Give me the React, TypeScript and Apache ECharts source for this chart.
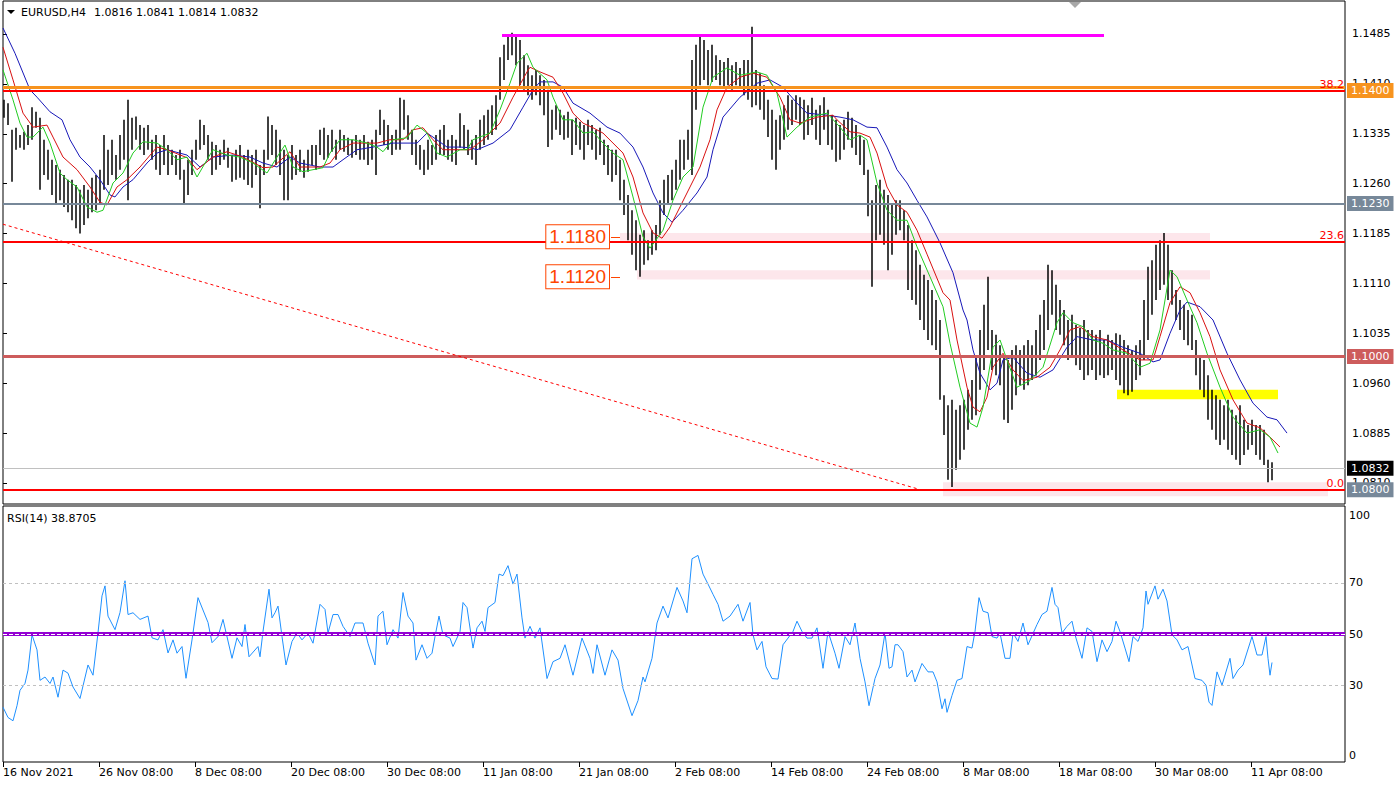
import React, { useEffect, useRef } from "react";
import * as echarts from "echarts";

const FONT = "'DejaVu Sans', Tahoma, Verdana, sans-serif";

// ---- axis labels ----
const xLabels = ["16 Nov 2021", "26 Nov 08:00", "8 Dec 08:00", "20 Dec 08:00", "30 Dec 08:00", "11 Jan 08:00", "21 Jan 08:00", "2 Feb 08:00", "14 Feb 08:00", "24 Feb 08:00", "8 Mar 08:00", "18 Mar 08:00", "30 Mar 08:00", "11 Apr 08:00"];
const barsPerLabel = 48; // H4 bars between two time labels
const totalBarsVisible = 671; // H4 bar slots across the chart width
const priceTicks = [1.081, 1.0885, 1.096, 1.1035, 1.111, 1.1185, 1.126, 1.1335, 1.141, 1.1485];
const priceMin = 1.07784;
const priceMax = 1.15346;
const rsiTicks = [0, 30, 50, 70, 100];

// ---- price bars (every second H4 bar, high / low) ----
const barHigh = [
  1.1386, 1.1381, 1.1341, 1.1344, 1.1333, 1.1338, 1.1348, 1.1375, 1.1368, 1.1359,
  1.1326, 1.1311, 1.1296, 1.1288, 1.1281, 1.1273, 1.1266, 1.1266, 1.1258, 1.1251,
  1.1258, 1.1251, 1.1269, 1.1273, 1.1281, 1.1333, 1.1311, 1.1326, 1.1303, 1.1333,
  1.1356, 1.1386, 1.1359, 1.1361, 1.1348, 1.1344, 1.1348, 1.1326, 1.1333, 1.1318,
  1.1333, 1.1318, 1.1311, 1.1303, 1.1311, 1.1281, 1.1296, 1.1311, 1.1326, 1.1356,
  1.1348, 1.1333, 1.1323, 1.1318, 1.1311, 1.1326, 1.1314, 1.1303, 1.1311, 1.1318,
  1.1303, 1.1311, 1.1303, 1.1311, 1.1288, 1.1311, 1.1361, 1.1348, 1.1341, 1.1326,
  1.1311, 1.1303, 1.1318, 1.1303, 1.1311, 1.1296, 1.1311, 1.1318, 1.1318, 1.1341,
  1.1344, 1.1333, 1.1341, 1.1326, 1.1341, 1.1333, 1.1329, 1.1326, 1.1333, 1.1326,
  1.1333, 1.1323, 1.1326, 1.1341, 1.1371, 1.1356, 1.1348, 1.1333, 1.1341, 1.1389,
  1.1386, 1.1363, 1.1341, 1.1326, 1.1318, 1.1311, 1.1326, 1.1318, 1.1333, 1.1341,
  1.1348, 1.1326, 1.1333, 1.1326, 1.1366, 1.1348, 1.1341, 1.1326, 1.1333, 1.1356,
  1.1363, 1.1371, 1.1378, 1.1393, 1.1450, 1.1469, 1.1484, 1.1487, 1.1484, 1.1476,
  1.1453, 1.1438, 1.1423, 1.1431, 1.1423, 1.1416, 1.1401, 1.1371, 1.1378, 1.1371,
  1.1363, 1.1368, 1.1356, 1.1359, 1.1353, 1.1348, 1.1356, 1.1348, 1.1341, 1.1344,
  1.1326, 1.1318, 1.1311, 1.1311, 1.1296, 1.1266, 1.1243, 1.1220, 1.1205, 1.1183,
  1.1190, 1.1175, 1.1190, 1.1198, 1.1235, 1.1266, 1.1273, 1.1281, 1.1296, 1.1326,
  1.1326, 1.1341, 1.1446, 1.1469, 1.1481, 1.1476, 1.1461, 1.1469, 1.1453, 1.1446,
  1.1443, 1.1449, 1.1438, 1.1443, 1.1434, 1.1446, 1.1446, 1.1496, 1.1431, 1.1426,
  1.1408, 1.1386, 1.1371, 1.1356, 1.1363, 1.1378, 1.1393, 1.1386, 1.1393, 1.1390,
  1.1386, 1.1378, 1.1389, 1.1371, 1.1378, 1.1390, 1.1371, 1.1363, 1.1356, 1.1348,
  1.1356, 1.1368, 1.1359, 1.1348, 1.1333, 1.1326, 1.1281, 1.1235, 1.1258, 1.1266,
  1.1251, 1.1243, 1.1228, 1.1235, 1.1235, 1.1220, 1.1198, 1.1175, 1.1160, 1.1138,
  1.1123, 1.1115, 1.1100, 1.1085, 1.1055, 1.0942, 1.0927, 1.0935, 1.0920, 1.0927,
  1.0935, 1.0950, 1.0965, 1.1002, 1.1040, 1.1078, 1.1120, 1.1040, 1.1033, 1.1017,
  1.1002, 1.0995, 1.1010, 1.1017, 1.1010, 1.1017, 1.1025, 1.1017, 1.1040, 1.1063,
  1.1085, 1.1138, 1.1130, 1.1108, 1.1085, 1.1070, 1.1055, 1.1063, 1.1048, 1.1043,
  1.1055, 1.1040, 1.1040, 1.1033, 1.1040, 1.1025, 1.1033, 1.1025, 1.1035, 1.1033,
  1.1025, 1.1017, 1.1010, 1.1017, 1.1025, 1.1085, 1.1135, 1.1145, 1.1168, 1.1175,
  1.1186, 1.1168, 1.1130, 1.1100, 1.1085, 1.1078, 1.1070, 1.1063, 1.1025, 1.1002,
  1.0995, 1.0972, 1.0950, 1.0942, 1.0935, 1.0927, 1.0935, 1.0920, 1.0912, 1.0927,
  1.0905, 1.0897, 1.0905, 1.0897, 1.0897, 1.0890, 1.0845, 1.0841,
];
const barLow = [
  1.1359, 1.1348, 1.1263, 1.1311, 1.1314, 1.1311, 1.1318, 1.1326, 1.1344, 1.1251,
  1.1273, 1.1266, 1.1243, 1.1228, 1.1235, 1.1225, 1.1217, 1.1205, 1.1193, 1.1185,
  1.1198, 1.1208, 1.1217, 1.1220, 1.1228, 1.1251, 1.1258, 1.1273, 1.1266, 1.1281,
  1.1296, 1.1235, 1.1311, 1.1326, 1.1311, 1.1303, 1.1311, 1.1296, 1.1281, 1.1273,
  1.1288, 1.1273, 1.1288, 1.1273, 1.1266, 1.1228, 1.1243, 1.1273, 1.1296, 1.1311,
  1.1318, 1.1296, 1.1273, 1.1281, 1.1288, 1.1296, 1.1284, 1.1263, 1.1266, 1.1269,
  1.1266, 1.1258, 1.1254, 1.1273, 1.1223, 1.1273, 1.1296, 1.1303, 1.1288, 1.1273,
  1.1235, 1.1235, 1.1266, 1.1273, 1.1278, 1.1269, 1.1278, 1.1288, 1.1281, 1.1303,
  1.1296, 1.1299, 1.1308, 1.1296, 1.1311, 1.1308, 1.1303, 1.1299, 1.1303, 1.1296,
  1.1296, 1.1288, 1.1296, 1.1273, 1.1333, 1.1318, 1.1311, 1.1303, 1.1311, 1.1311,
  1.1341, 1.1326, 1.1303, 1.1288, 1.1281, 1.1273, 1.1281, 1.1288, 1.1296, 1.1303,
  1.1303, 1.1296, 1.1293, 1.1288, 1.1314, 1.1311, 1.1303, 1.1296, 1.1288, 1.1311,
  1.1318, 1.1326, 1.1333, 1.1341, 1.1386, 1.1416, 1.1446, 1.1453, 1.1438, 1.1408,
  1.1401, 1.1393, 1.1386, 1.1393, 1.1378, 1.1363, 1.1315, 1.1326, 1.1341, 1.1333,
  1.1326, 1.1329, 1.1303, 1.1318, 1.1311, 1.1296, 1.1318, 1.1311, 1.1296, 1.1303,
  1.1288, 1.1273, 1.1263, 1.1273, 1.1235, 1.1213, 1.1175, 1.1153, 1.1130, 1.1120,
  1.1138, 1.1145, 1.1153, 1.1160, 1.1183, 1.1213, 1.1228, 1.1235, 1.1251, 1.1266,
  1.1281, 1.1296, 1.1273, 1.1371, 1.1408, 1.1416, 1.1408, 1.1413, 1.1416, 1.1408,
  1.1404, 1.1408, 1.1401, 1.1408, 1.1404, 1.1393, 1.1386, 1.1375, 1.1378, 1.1371,
  1.1356, 1.1330, 1.1296, 1.1281, 1.1311, 1.1326, 1.1341, 1.1348, 1.1356, 1.1348,
  1.1326, 1.1333, 1.1348, 1.1326, 1.1318, 1.1341, 1.1318, 1.1311, 1.1293, 1.1296,
  1.1311, 1.1326, 1.1314, 1.1303, 1.1288, 1.1273, 1.1211, 1.1105, 1.1175, 1.1183,
  1.1168, 1.1130, 1.1153, 1.1183, 1.1190, 1.1175, 1.1100, 1.1085, 1.1078, 1.1055,
  1.1040, 1.1025, 1.1017, 1.1010, 1.0935, 1.0882, 1.0815, 1.0804, 1.0830, 1.0845,
  1.0860, 1.0890, 1.0905, 1.0912, 1.0950, 1.0980, 1.1010, 1.0980, 1.0972, 1.0957,
  1.0905, 1.0900, 1.0920, 1.0942, 1.0957, 1.0950, 1.0957, 1.0965, 1.0972, 1.0995,
  1.1010, 1.1040, 1.1063, 1.1040, 1.1033, 1.1017, 1.0995, 1.1002, 1.0987, 1.0980,
  1.0965, 1.0972, 1.0980, 1.0965, 1.0972, 1.0968, 1.0972, 1.0980, 1.0965, 1.0957,
  1.0945, 1.0942, 1.0947, 1.0965, 1.0972, 1.0995, 1.1025, 1.1063, 1.1085, 1.1100,
  1.1108, 1.1085, 1.1078, 1.1055, 1.1040, 1.1025, 1.1017, 1.1010, 1.0972, 1.0950,
  1.0939, 1.0905, 1.0890, 1.0875, 1.0867, 1.0875, 1.0860, 1.0852, 1.0845, 1.0837,
  1.0852, 1.0860, 1.0867, 1.0852, 1.0845, 1.0837, 1.0811, 1.0814,
];

// ---- Alligator lines: [H4 bar index, price] ----
const jaw = [[0,1.1494],[6,1.1456],[13.5,1.1401],[17,1.139],[23.5,1.1368],[29.5,1.1356],[33.5,1.1326],[38.5,1.13],[43.5,1.1285],[48.5,1.1266],[53.5,1.1243],[56,1.124],[60,1.1255],[65,1.1266],[72,1.1291],[77,1.1306],[82,1.1311],[92,1.1303],[98.5,1.1285],[105,1.13],[115,1.1303],[123.5,1.13],[130,1.1291],[137,1.1285],[143.5,1.13],[148.5,1.1291],[158.5,1.1285],[165,1.1285],[170,1.1296],[177,1.1311],[185,1.1315],[195,1.1321],[207,1.1321],[212,1.1336],[215,1.133],[222,1.1315],[228.5,1.1315],[233.5,1.1314],[237,1.1311],[245,1.1321],[253.5,1.1341],[260,1.1375],[265,1.1401],[268.5,1.1413],[275,1.1413],[280,1.1405],[285,1.1381],[293.5,1.1366],[302,1.1345],[308.5,1.1336],[315,1.1315],[320,1.1285],[325,1.1246],[330,1.1216],[334.5,1.1202],[340,1.122],[347,1.1246],[352,1.127],[355,1.1311],[360,1.136],[368.5,1.139],[377,1.1411],[383.5,1.1416],[390,1.1405],[397,1.1381],[402,1.1366],[412,1.1363],[418.5,1.136],[425,1.1356],[432,1.1345],[437,1.1344],[442,1.1315],[447,1.1281],[452,1.1261],[457,1.1235],[462,1.121],[468.5,1.1171],[475,1.1126],[480,1.107],[482,1.1055],[485,1.101],[488.5,1.0975],[493.5,1.095],[497,1.096],[500,1.0995],[505,1.0999],[512,1.0975],[518.5,1.0969],[525,1.098],[532,1.1014],[537,1.103],[545,1.1025],[552,1.1025],[560,1.1014],[568.5,1.1005],[575,1.0992],[578.5,1.0995],[583.5,1.1035],[588.5,1.107],[592,1.1082],[598.5,1.1075],[605,1.1055],[612,1.1005],[618.5,1.0965],[625,1.093],[632,1.0909],[637,1.0905],[642,1.0885]];
const teeth = [[0,1.1465],[5,1.1416],[10,1.1366],[15,1.1345],[22,1.1348],[25,1.133],[30,1.13],[37,1.1281],[43.5,1.1255],[48.5,1.1232],[52,1.1228],[57,1.1255],[62,1.1266],[68.5,1.1285],[77,1.1315],[82,1.1311],[92,1.1299],[97,1.1281],[105,1.13],[112,1.1308],[120,1.13],[130,1.1284],[135,1.1285],[143.5,1.1308],[148.5,1.1285],[158.5,1.1285],[163.5,1.1291],[168.5,1.1311],[175,1.1321],[187,1.1321],[193.5,1.1326],[200,1.1326],[205,1.1341],[210,1.1344],[215,1.1326],[220,1.1311],[228.5,1.1311],[233.5,1.1311],[240,1.1326],[248.5,1.1351],[255,1.139],[262,1.1428],[263.5,1.1435],[268.5,1.1428],[275,1.142],[280,1.1396],[285,1.1366],[290,1.1351],[295,1.1344],[300,1.1336],[305,1.1321],[310,1.1306],[315,1.127],[320,1.1216],[325,1.1186],[329.5,1.1178],[333.5,1.1195],[338.5,1.1225],[343.5,1.1255],[348.5,1.1285],[353.5,1.1326],[357,1.1371],[362,1.1405],[368.5,1.142],[375,1.1426],[382,1.142],[388.5,1.139],[393.5,1.1356],[398.5,1.1351],[407,1.136],[415,1.1363],[417,1.1356],[423.5,1.1338],[428.5,1.1336],[433.5,1.133],[437,1.1306],[442,1.1255],[447,1.1228],[452,1.1217],[457,1.119],[462,1.1154],[470,1.1096],[473.5,1.1085],[477,1.1025],[482,1.0954],[485,1.0924],[488.5,1.0917],[492,1.0939],[495,1.0984],[500,1.1005],[505,1.098],[510,1.0964],[517,1.0969],[523.5,1.0984],[528.5,1.101],[533.5,1.104],[538.5,1.1045],[545,1.103],[552,1.1025],[560,1.101],[568.5,1.0995],[575,1.0995],[578.5,1.103],[583.5,1.1081],[588.5,1.1105],[593.5,1.1096],[598.5,1.1066],[603.5,1.103],[608.5,1.098],[615,1.0935],[622,1.09],[628.5,1.0893],[633.5,1.0879],[638.5,1.0864]];
const lips = [[0,1.1431],[5,1.1386],[8.5,1.1351],[12,1.133],[15,1.133],[20,1.1345],[23.5,1.1321],[28.5,1.1276],[32,1.1266],[37,1.1255],[42,1.1225],[47,1.1217],[50,1.122],[55,1.1261],[60,1.1276],[65,1.1306],[70,1.1323],[77,1.1321],[82,1.1311],[87,1.1296],[92,1.13],[97,1.127],[102,1.1296],[105,1.1311],[112,1.1303],[118.5,1.13],[125,1.1291],[132,1.1276],[137,1.13],[141,1.1318],[145,1.1285],[150,1.1278],[160,1.1284],[163.5,1.1306],[168.5,1.1326],[175,1.1326],[182,1.1321],[187,1.1315],[190,1.1308],[195,1.1326],[202,1.1329],[207,1.1348],[212,1.1336],[217,1.1306],[222,1.13],[228.5,1.1311],[232,1.1311],[235,1.1326],[243.5,1.1336],[248.5,1.1371],[253.5,1.1411],[257,1.1441],[262,1.1456],[265,1.1435],[272,1.1416],[275,1.139],[280,1.1356],[285,1.1356],[290,1.1336],[295,1.1338],[300,1.1321],[305,1.1306],[310,1.1296],[315,1.124],[320,1.118],[323.5,1.1163],[330,1.119],[335,1.1235],[340,1.127],[345,1.1285],[350,1.1375],[355,1.142],[362,1.1434],[368.5,1.1423],[377,1.1428],[382,1.1423],[387,1.1396],[392,1.133],[397,1.1345],[403.5,1.136],[412,1.1366],[418.5,1.1345],[423.5,1.1326],[428.5,1.1333],[432,1.1326],[437,1.1261],[442,1.122],[447,1.1205],[452,1.1205],[457,1.1165],[463.5,1.112],[470,1.1075],[473.5,1.102],[478.5,1.0954],[483.5,1.09],[487,1.0894],[490,1.0924],[495,1.1014],[498.5,1.1025],[502,1.0995],[507,1.0954],[513.5,1.0964],[520,1.0984],[527,1.1051],[530,1.1066],[535,1.1051],[540,1.1045],[545,1.1025],[550,1.102],[555,1.101],[562,1.1005],[568.5,1.0984],[573.5,1.099],[578.5,1.104],[583.5,1.113],[587,1.112],[592,1.1085],[597,1.1051],[602,1.1005],[608.5,1.0954],[615,1.0909],[622,1.0885],[628.5,1.089],[633.5,1.0879],[637.5,1.0855]];

// ---- RSI(14): [H4 bar index, value] ----
const rsi = [[0,21.4],[2.5,17.4],[5,16.1],[7,22],[8.5,28],[11,30.7],[12.5,35.9],[14.5,49.7],[17,43.8],[18.5,31.9],[21,33.2],[23.5,30.7],[25,33.2],[27.5,25.3],[30,35.9],[32.5,34.7],[35,29.3],[38.5,24.8],[42.5,37.9],[45,33.9],[47.5,50.5],[49.5,64.9],[51,68.8],[52.5,57],[56,51.7],[58.5,58.4],[61,70.8],[62.5,57.6],[65,58.3],[68.5,55.7],[72.5,57],[74.5,48.5],[77.5,47.7],[80,51.7],[82.5,42.6],[85,47.7],[87,42.5],[89.5,45.1],[91.5,32.7],[94.5,47.7],[97.5,64.2],[102.5,54.5],[104.5,46.6],[107.5,49],[110,55.7],[114.5,40.5],[117,48.5],[119.5,45.1],[121,53.7],[123,41.1],[127.5,45.1],[128.5,41.1],[130,51],[133,67.5],[134.5,56.3],[136,58.3],[137.5,60.9],[139.5,49],[141.5,37.9],[144.5,47.1],[147,50.4],[149.5,47.7],[152.5,50.4],[155,46.4],[158.5,61.6],[161,59.6],[162.5,50.4],[165,57.6],[167.5,57.6],[170,53],[173.5,49],[176,54.3],[180,54.3],[182.5,46.4],[186,37.9],[187.5,57],[190,58.9],[192,45.8],[195,51.7],[197.5,48.4],[200,66.2],[202.5,57],[205,54.3],[206.5,39.8],[209.5,45.8],[212,40.5],[214.5,42.5],[216,49],[218,57],[220,49.7],[223.5,48.4],[225,45.1],[228.5,51],[230,62.3],[232,60.3],[235,44.5],[237,52.4],[239.5,55],[241,51],[242.5,60.3],[246,62.3],[248,73.4],[250,72.8],[252.5,76.7],[255,69.5],[257,73.4],[259.5,56.3],[261,48.4],[263.5,53],[266,48.4],[268.5,52.4],[272,32.6],[275,39.2],[278.5,40.5],[281,45.8],[285,33.9],[289.5,48.4],[293.5,40.5],[295,34.6],[297,45.8],[301,33.9],[304.5,43.8],[307.5,39.8],[310,28.7],[314.5,18.1],[317.5,24],[320,33.2],[321,31.3],[324.5,40.5],[327,54.3],[330,60.9],[332.5,56.3],[337,68.2],[340,62.9],[342,58.3],[344.5,79.4],[347.5,80.7],[350,73.4],[352.5,69.5],[355,65.5],[357.5,61.6],[360,55],[363.5,57],[367.5,61.6],[370,55],[373.5,62.3],[375,49.7],[377,43.8],[379.5,47.1],[381.5,37.2],[384.5,32.6],[387.5,32.4],[390,45.8],[392.5,48.4],[395,51],[397,55],[399.5,51],[402,48.4],[404.5,48.4],[407,52.4],[410,36.6],[412.5,51],[416,42.5],[418,36.6],[421,49],[423.5,45.8],[426,54.3],[428.5,40.5],[431,31.3],[433,22],[436,32.6],[438.5,37.9],[441,50.4],[443,36.6],[444.5,37.2],[446,45.8],[447.5,45.8],[450,43.1],[452,33.2],[454.5,35.9],[456,31.3],[459.5,38.5],[462.5,35.2],[465,35.2],[467,31.3],[469.5,20.8],[471,24.7],[472,19.4],[474.5,26],[477,31.9],[479.5,32.6],[482,45.1],[484.5,44.5],[486,51],[488,64.2],[490,58.9],[492.5,58.3],[494.5,49],[497,48.4],[498.5,50.4],[501,40.5],[503.5,40.5],[505,50.4],[507.5,47.1],[510,54.3],[512.5,45.8],[517,53.7],[519.5,57.6],[522,58.9],[524.5,68.2],[526,61.6],[527.5,60.3],[529.5,50.4],[532,53],[534.5,55],[536,49.7],[539.5,40.5],[542,52.4],[544.5,51],[547,39.2],[549.5,47.7],[552,43.1],[554.5,47.1],[556.5,55],[558.5,51],[561,44.5],[563,39.2],[565,49],[567.5,47.1],[570,52.4],[571.5,66.8],[572.5,61.6],[576,68.8],[577.5,63.6],[580,67.5],[582,62.9],[584.5,49.7],[587,47.7],[589.5,43.8],[592.5,45.1],[596,32.6],[599.5,31.9],[601.5,30],[603,23.4],[604.5,22.1],[607,35.2],[609.5,30],[613.5,40.5],[615,32.6],[617.5,35.9],[620,37.9],[624.5,49],[627,41.8],[629.5,41.8],[631.5,49],[632.5,40.5],[633.5,33.9],[634.5,38.87]];

// ---- last bar / indicator readouts ----
const lastOpen = 1.0816;
const lastHigh = 1.0841;
const lastLow = 1.0814;
const lastClose = 1.0832;
const rsiValue = 38.8705;

// ---- drawn objects (prices and H4 bar indices) ----
const fibLevels = [{ price: 1.14, text: "38.2" }, { price: 1.1172, text: "23.6" }, { price: 1.08, text: "0.0" }];
const orangeLevel = 1.14045;
const grayLevel = 1.123;
const roundLevel = 1.1;
const topResistance = { from: 249.5, to: 550.5, price: 1.1483 };
const trendFrom = [0, 1.1199];
const trendTo = [457.5, 1.0801];
const boxLevels = [1.118, 1.112];
const boxAnchor = [304, 308.5];
const pinkZones = [
  [308.5, 603.5, 1.1171, 1.1186],
  [317, 603.5, 1.1116, 1.113],
  [470, 662.5, 1.079, 1.0811],
];
const yellowZone = [557, 637.5, 1.0936, 1.095];
const rsiLevels = [30, 70];

const ORANGE = "#f7931e";
const SLATE = "#778899";
const INDIAN = "#cd5c5c";
const BOXCOL = "#ff4500";

function tag(price: number, text: string, bg: string) {
  return {
    yAxis: price,
    lineStyle: { width: 0, color: "rgba(0,0,0,0)", type: "solid" },
    label: {
      show: true, position: "end", distance: 2, formatter: text, color: "#fff",
      backgroundColor: bg, padding: [2, 4, 1, 4], fontFamily: FONT, fontSize: 11, lineHeight: 12,
    },
  };
}
function hline(price: number, color: string, width: number, labelText?: string) {
  return {
    yAxis: price,
    lineStyle: { color, width, type: "solid" },
    label: labelText
      ? { show: true, position: "insideEndTop", distance: 1, formatter: labelText, color: "#ff0000", fontFamily: FONT, fontSize: 11 }
      : { show: false },
  };
}

function buildOption() {
  const bars = barHigh.map((h, i) => [0.5 + 2 * i, barLow[i], h]);
  const xTickValues = xLabels.map((_, i) => i * barsPerLabel);

  const priceMarkLines: any[] = [
    hline(orangeLevel, ORANGE, 3),
    ...fibLevels.map((f) => hline(f.price, "#ff0000", 2, f.text)),
    hline(grayLevel, SLATE, 2),
    hline(roundLevel, INDIAN, 3),
    hline(lastClose, "#c0c0c0", 1),
    [
      { coord: [topResistance.from, topResistance.price], lineStyle: { color: "#ff00ff", width: 3, type: "solid" }, label: { show: false } },
      { coord: [topResistance.to, topResistance.price] },
    ],
    [
      { coord: trendFrom, lineStyle: { color: "#ff0000", width: 1, type: [3, 3] }, label: { show: false } },
      { coord: trendTo },
    ],
    ...boxLevels.map((p) => [
      {
        coord: [boxAnchor[0], p],
        lineStyle: { color: BOXCOL, width: 1, type: "solid" },
        label: {
          show: true, position: "start", distance: 2, formatter: p.toFixed(4), color: BOXCOL,
          fontFamily: "'Liberation Sans', Arial, sans-serif", fontSize: 19, lineHeight: 20,
          borderColor: BOXCOL, borderWidth: 1, padding: [2, 3, 1, 3], backgroundColor: "#fff",
        },
      },
      { coord: [boxAnchor[1], p] },
    ]),
    tag(1.14, "1.1400", ORANGE),
    tag(grayLevel, "1.1230", SLATE),
    tag(roundLevel, "1.1000", INDIAN),
    tag(lastClose, lastClose.toFixed(4), "#000"),
    tag(1.08, "1.0800", SLATE),
  ];

  const areas: any[] = pinkZones.map((z) => [
    { coord: [z[0], z[2]], itemStyle: { color: "#fde6eb" } },
    { coord: [z[1], z[3]] },
  ]);
  areas.push([
    { coord: [yellowZone[0], yellowZone[2]], itemStyle: { color: "#ffff00" } },
    { coord: [yellowZone[1], yellowZone[3]] },
  ]);

  const axisFont = { fontFamily: FONT, fontSize: 11, color: "#000" };

  return {
    animation: false,
    backgroundColor: "#fff",
    grid: [
      { left: 3, top: 1, width: 1342, height: 503, show: true, borderColor: "#000", borderWidth: 1, backgroundColor: "#fff" },
      { left: 3, top: 506, width: 1342, height: 256, show: true, borderColor: "#000", borderWidth: 1, backgroundColor: "#fff" },
    ],
    xAxis: [
      { gridIndex: 0, type: "value", min: 0, max: totalBarsVisible, show: false },
      {
        gridIndex: 1, type: "value", min: 0, max: totalBarsVisible,
        axisLine: { show: false },
        axisTick: { show: true, customValues: xTickValues, length: 5, lineStyle: { color: "#000" } },
        axisLabel: {
          ...axisFont, customValues: xTickValues, align: "left", margin: 5,
          formatter: (v: number) => xLabels[Math.round(v / barsPerLabel)] ?? "",
        },
        splitLine: { show: false },
      },
    ],
    yAxis: [
      {
        gridIndex: 0, type: "value", min: priceMin, max: priceMax, position: "right",
        axisLine: { show: false },
        axisTick: { show: true, customValues: priceTicks, length: 4, lineStyle: { color: "#000" } },
        axisLabel: { ...axisFont, customValues: priceTicks, margin: 7, formatter: (v: number) => v.toFixed(4) },
        splitLine: { show: false },
      },
      {
        gridIndex: 1, type: "value", min: 0, max: 100, position: "right",
        axisLine: { show: false },
        axisTick: { show: false },
        axisLabel: {
          ...axisFont, customValues: rsiTicks, margin: 4,
          formatter: (v: number) => (v === 100 ? "{t|100}" : v === 0 ? "{b|0}" : String(v)),
          rich: {
            t: { ...axisFont, padding: [18, 0, 0, 0] },
            b: { ...axisFont, padding: [0, 0, 14, 0] },
          },
        },
        splitLine: { show: false },
      },
    ],
    series: [
      {
        type: "line", xAxisIndex: 0, yAxisIndex: 0, data: [], z: 1, silent: true,
        markArea: { silent: true, data: areas },
      },
      {
        type: "custom", xAxisIndex: 0, yAxisIndex: 0, z: 2, silent: true,
        data: bars,
        encode: { x: 0, y: [1, 2] },
        renderItem: (params: any, api: any) => {
          const x = api.value(0);
          const lo = api.coord([x, api.value(1)]);
          const hi = api.coord([x, api.value(2)]);
          return {
            type: "line",
            shape: { x1: lo[0], y1: lo[1], x2: hi[0], y2: hi[1] },
            style: { stroke: "#000", lineWidth: 1.5 },
          };
        },
      },
      { type: "line", xAxisIndex: 0, yAxisIndex: 0, data: jaw, z: 3, silent: true, showSymbol: false, symbol: "none", lineStyle: { color: "#1818b8", width: 1 } },
      { type: "line", xAxisIndex: 0, yAxisIndex: 0, data: teeth, z: 3, silent: true, showSymbol: false, symbol: "none", lineStyle: { color: "#d81010", width: 1 } },
      { type: "line", xAxisIndex: 0, yAxisIndex: 0, data: lips, z: 3, silent: true, showSymbol: false, symbol: "none", lineStyle: { color: "#22cc22", width: 1 } },
      {
        type: "line", xAxisIndex: 0, yAxisIndex: 0, data: [], z: 5, silent: true,
        markLine: { silent: true, precision: 6, symbol: ["none", "none"], data: priceMarkLines },
      },
      {
        type: "line", xAxisIndex: 1, yAxisIndex: 1, data: rsi, z: 3, silent: true, showSymbol: false, symbol: "none",
        lineStyle: { color: "#1e90ff", width: 1 },
        markLine: {
          silent: true, precision: 6, symbol: ["none", "none"],
          data: [
            ...rsiLevels.map((l) => ({ yAxis: l, lineStyle: { color: "#c0c0c0", width: 1, type: [3, 3] }, label: { show: false } })),
            { yAxis: 50, lineStyle: { color: "#9400d3", width: 4, type: "solid" }, label: { show: false } },
            { yAxis: 50, lineStyle: { color: "#ffffff", width: 1, type: [4, 2] }, label: { show: false } },
          ],
        },
      },
    ],
    graphic: [
      { type: "polygon", shape: { points: [[7, 10], [15, 10], [11, 14]] }, style: { fill: "#000" }, silent: true },
      { type: "text", x: 21, y: 12, style: { text: "EURUSD,H4", font: `11px ${FONT}`, fill: "#000", verticalAlign: "middle" }, silent: true },
      {
        type: "text", x: 94, y: 12, silent: true,
        style: { text: [lastOpen, lastHigh, lastLow, lastClose].map((v) => v.toFixed(4)).join(" "), font: `11px ${FONT}`, fill: "#000", verticalAlign: "middle" },
      },
      { type: "polygon", shape: { points: [[1069, 2], [1081, 2], [1075, 8]] }, style: { fill: "#a8a8a8" }, silent: true },
      { type: "text", x: 7, y: 518, style: { text: `RSI(14) ${rsiValue.toFixed(4)}`, font: `11px ${FONT}`, fill: "#000", verticalAlign: "middle" }, silent: true },
    ],
  };
}

export default function App() {
  const ref = useRef<HTMLDivElement>(null);
  useEffect(() => {
    if (!ref.current) return;
    const chart = echarts.init(ref.current, undefined, { renderer: "svg" });
    chart.setOption(buildOption() as any);
    return () => chart.dispose();
  }, []);
  return <div ref={ref} style={{ position: "absolute", left: 0, top: 0, width: 1399, height: 785, background: "#fff" }} />;
}
